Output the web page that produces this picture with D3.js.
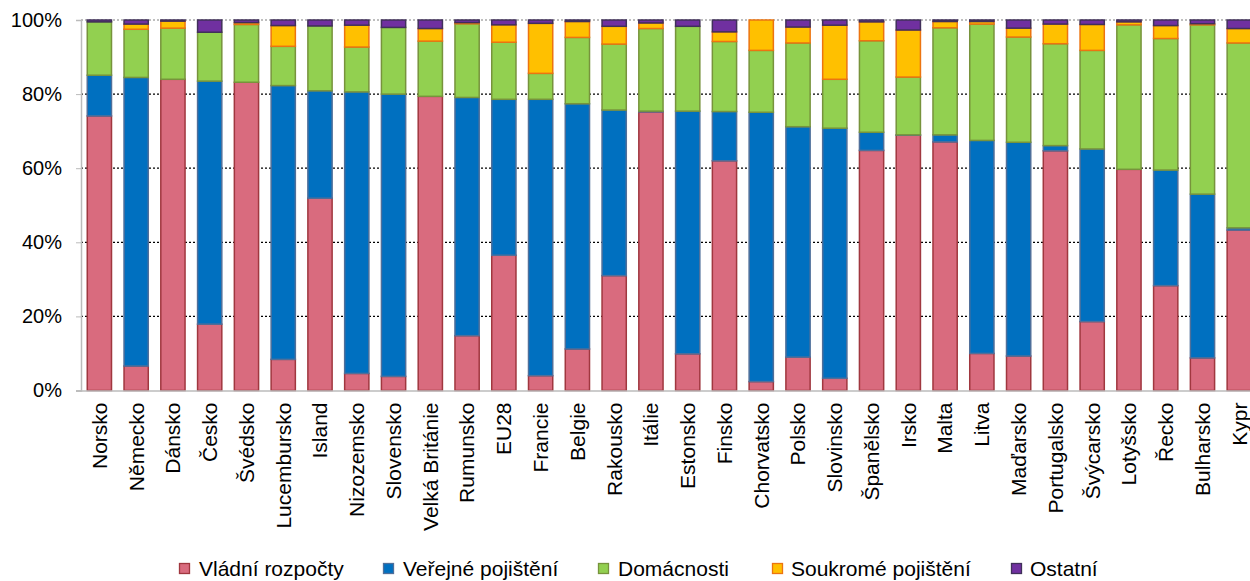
<!DOCTYPE html>
<html><head><meta charset="utf-8">
<script src="https://cdn.jsdelivr.net/npm/d3@7"></script>
<style>body{margin:0;background:#fff;} svg{display:block;font-family:"Liberation Sans",Arial,sans-serif;}</style>
</head><body>
<svg id="c" width="1250" height="581"></svg>
<script>
const categories = ["Norsko","Německo","Dánsko","Česko","Švédsko","Lucembursko","Island","Nizozemsko","Slovensko","Velká Británie","Rumunsko","EU28","Francie","Belgie","Rakousko","Itálie","Estonsko","Finsko","Chorvatsko","Polsko","Slovinsko","Španělsko","Irsko","Malta","Litva","Maďarsko","Portugalsko","Švýcarsko","Lotyšsko","Řecko","Bulharsko","Kypr"];
const seriesNames = ["Vládní rozpočty","Veřejné pojištění","Domácnosti","Soukromé pojištění","Ostatní"];
const vladni     = [74.1, 6.6, 84.0, 17.9, 83.2, 8.4, 51.9, 4.6, 3.8, 79.4, 14.8, 36.5, 4.0, 11.2, 31.0, 75.2, 9.9, 62.0, 2.4, 9.0, 3.3, 64.8, 68.9, 67.1, 10.0, 9.3, 64.7, 18.6, 59.7, 28.3, 8.8, 43.3];
const verejne    = [11.0, 77.9, 0.0, 65.6, 0.0, 73.9, 29.0, 76.0, 76.2, 0.0, 64.3, 42.1, 74.6, 66.2, 44.7, 0.2, 65.5, 13.3, 72.7, 62.2, 67.5, 4.9, 0.1, 1.9, 57.5, 57.7, 1.4, 46.6, 0.0, 31.2, 44.2, 0.6];
const domacnosti = [14.4, 13.0, 13.8, 13.2, 15.6, 10.6, 17.5, 12.1, 18.0, 14.9, 19.9, 15.4, 7.0, 17.9, 17.8, 22.3, 22.9, 18.9, 16.7, 22.6, 13.2, 24.7, 15.6, 28.9, 31.4, 28.4, 27.5, 26.6, 39.0, 35.5, 45.7, 49.9];
const soukrome   = [0.0, 1.4, 1.9, 0.0, 0.5, 5.6, 0.0, 5.9, 0.0, 3.4, 0.3, 4.7, 13.5, 4.3, 4.8, 1.5, 0.0, 2.6, 8.2, 4.3, 14.6, 5.1, 12.7, 1.7, 0.7, 2.4, 5.3, 7.0, 0.8, 3.5, 0.3, 3.9];
const ostatni    = [0.5, 1.1, 0.3, 3.3, 0.7, 1.5, 1.6, 1.4, 2.0, 2.3, 0.7, 1.3, 0.9, 0.4, 1.7, 0.8, 1.7, 3.2, 0.0, 1.9, 1.4, 0.5, 2.7, 0.4, 0.4, 2.2, 1.1, 1.2, 0.5, 1.5, 1.0, 2.3];
const yTicks = [0, 20, 40, 60, 80, 100];
const yTickLabels = ["0%","20%","40%","60%","80%","100%"];

const fills   = ["#d96b7e","#0070c0","#92d050","#ffc000","#7030a0"];
const strokes = ["#a0373f","#4f6f9a","#77933c","#ec7410","#40305a"];
const seriesVals = [vladni, verejne, domacnosti, soukrome, ostatni];
const keys = ["v","p","d","s","o"];

const rows = categories.map((c,i)=>{
  const r = {cat:c};
  keys.forEach((k,j)=>{ r[k] = seriesVals[j][i]; });
  return r;
});
const stacked = d3.stack().keys(keys).offset(d3.stackOffsetExpand)(rows);

const svg = d3.select("#c");
const mLeft = 81, mTop = 20, mBottom = 390.5;
const x = d3.scaleBand().domain(categories).range([mLeft, mLeft + 32*36.77]).paddingInner(0.3).paddingOuter(0.15);
const y = d3.scaleLinear().domain([0,1]).range([mBottom, mTop]);

// gridlines
svg.append("g").selectAll("line").data(yTicks.filter(t=>t>0 && t<100)).join("line")
  .attr("x1", mLeft).attr("x2", 1250).attr("y1", d=>y(d/100)).attr("y2", d=>y(d/100))
  .attr("stroke","#000").attr("stroke-width",1.3).attr("stroke-dasharray","2,2");
svg.append("line").attr("x1",mLeft).attr("x2",1250).attr("y1",y(1)).attr("y2",y(1))
  .attr("stroke","#aaa").attr("stroke-width",1.3).attr("stroke-dasharray","2,2");

// bars
const g = svg.append("g");
stacked.forEach((s,j)=>{
  g.append("g").selectAll("rect").data(s.filter(d=>d[1]-d[0]>0)).join("rect")
    .attr("x", d=>x(d.data.cat)+0.75)
    .attr("width", x.bandwidth()-1.5)
    .attr("y", d=>y(d[1]))
    .attr("height", d=>Math.max(0, y(d[0])-y(d[1])))
    .attr("fill", fills[j]).attr("stroke", strokes[j]).attr("stroke-width",1.5);
});

// axes
const ya = d3.axisLeft(y).tickValues(yTicks.map(t=>t/100)).tickFormat((d,i)=>yTickLabels[i]).tickSize(5).tickPadding(14);
const yg = svg.append("g").attr("transform",`translate(${mLeft},0)`).call(ya);
yg.select(".domain").attr("stroke","#bbb").attr("stroke-width",1.5);
yg.selectAll(".tick line").attr("stroke","#bbb");
yg.selectAll("text").attr("font-size",20).attr("fill","#000").attr("font-family","Liberation Sans, Arial, sans-serif");

svg.append("line").attr("x1",mLeft-5).attr("x2",1250).attr("y1",mBottom+0.5).attr("y2",mBottom+0.5)
  .attr("stroke","#bbb").attr("stroke-width",1.5);

const xa = d3.axisBottom(x).tickSize(0).tickPadding(0);
const xg = svg.append("g").attr("transform",`translate(0,${mBottom})`).call(xa);
xg.select(".domain").remove();
xg.selectAll("text").attr("font-size",21).attr("fill","#000").attr("font-family","Liberation Sans, Arial, sans-serif")
  .attr("transform","rotate(-90)").attr("text-anchor","end").attr("dy","0.35em").attr("x",-12).attr("y",0);

// legend
const legX = [179, 383, 598, 772, 1011];
const legTx = [199, 403, 618, 791, 1030];
const lg = svg.append("g");
seriesNames.forEach((n,j)=>{
  lg.append("rect").attr("x",legX[j]+0.5).attr("y",563.5).attr("width",10).attr("height",10)
    .attr("fill",fills[j]).attr("stroke",strokes[j]).attr("stroke-width",1.3);
  lg.append("text").attr("x",legTx[j]).attr("y",576).attr("font-size",21).attr("fill","#000").text(n);
});
</script>
</body></html>
